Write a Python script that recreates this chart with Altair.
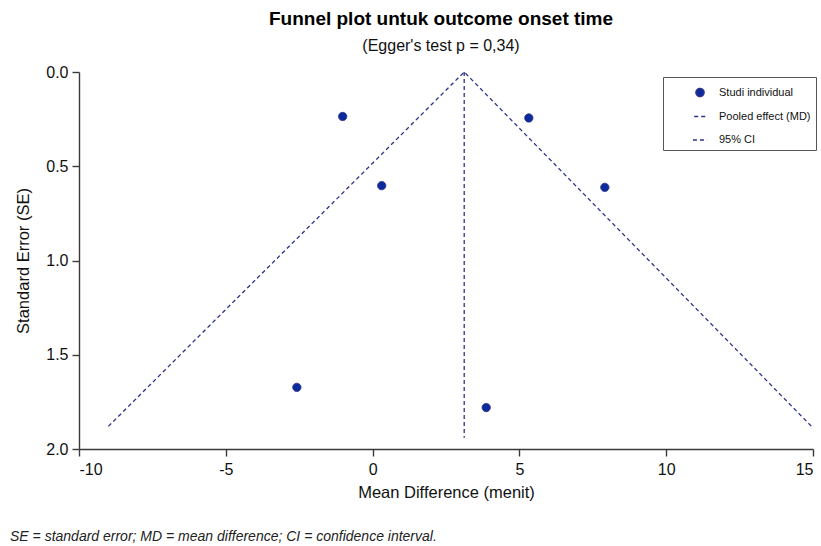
import altair as alt
import pandas as pd

# ---- data ----
study_md = [-1.02, 0.31, -2.58, 5.32, 7.91, 3.87]
study_se = [0.236, 0.603, 1.673, 0.244, 0.612, 1.78]

pooled_md = 3.12
pooled_se = [0.0, 1.94]

ci_md = [-9.0, 3.12, 14.95]
ci_se = [1.88, 0.0, 1.88]

series_labels = ["Studi individual", "Pooled effect (MD)", "95% CI"]
x_ticks = [-10, -5, 0, 5, 10, 15]
y_ticks = [0.0, 0.5, 1.0, 1.5, 2.0]

title_text = "Funnel plot untuk outcome onset time"
subtitle_text = "(Egger's test p = 0,34)"
x_title = "Mean Difference (menit)"
y_title = "Standard Error (SE)"
footnote = "SE = standard error; MD = mean difference; CI = confidence interval."

FONT = "Liberation Sans"
PT_COLOR = "#0b2a9c"
LN_COLOR = "#2d3189"
AX_COLOR = "#3a3a3a"

pts = pd.DataFrame({"md": study_md, "se": study_se, "series": series_labels[0]})
pooled = pd.DataFrame({"md": [pooled_md, pooled_md], "se": pooled_se, "order": [0, 1]})
ci = pd.DataFrame({"md": ci_md, "se": ci_se, "order": [0, 1, 2]})
note = pd.DataFrame({"note": [footnote]})

xscale = alt.Scale(domain=[-10, 15], nice=False, zero=False)
yscale = alt.Scale(domain=[0, 2], reverse=True, nice=False, zero=False)

xaxis = alt.Axis(values=x_ticks, title=x_title, grid=False, tickSize=7,
                 labelFontSize=16, labelPadding=5, titleFontSize=16.5,
                 titleFontWeight="normal", titlePadding=7,
                 labelExpr="datum.value + ''")
yaxis = alt.Axis(values=y_ticks, title=y_title, grid=False, tickSize=7,
                 labelFontSize=16, labelPadding=4, titleFontSize=16.5,
                 titleFontWeight="normal", titlePadding=14, format=".1f")


def make_legend():
    return alt.Legend(
        title=" ", titleFontSize=5, titlePadding=0,
        orient="none", legendX=584, legendY=5,
        padding=5, strokeColor="#555555", fillColor="white",
        symbolOffset=24, labelOffset=11, rowPadding=10,
        labelFontSize=11, labelFont=FONT, labelColor="#111111",
        symbolStrokeWidth=1.3, symbolOpacity=1,
    )


ci_layer = alt.Chart(ci).mark_line(color=LN_COLOR, strokeDash=[4, 3], strokeWidth=1.3).encode(
    x=alt.X("md:Q", scale=xscale, axis=xaxis),
    y=alt.Y("se:Q", scale=yscale, axis=yaxis),
    order="order:Q",
)

pooled_layer = alt.Chart(pooled).mark_line(color=LN_COLOR, strokeDash=[4, 3], strokeWidth=1.3).encode(
    x=alt.X("md:Q", scale=xscale, axis=xaxis),
    y=alt.Y("se:Q", scale=yscale, axis=yaxis),
    order="order:Q",
)

pt_layer = alt.Chart(pts).mark_point(
    filled=True, opacity=1, fill=PT_COLOR, stroke=LN_COLOR, strokeWidth=1.0
).encode(
    x=alt.X("md:Q", scale=xscale, axis=xaxis),
    y=alt.Y("se:Q", scale=yscale, axis=yaxis),
    shape=alt.Shape("series:N",
                    scale=alt.Scale(domain=series_labels, range=["circle", "stroke", "stroke"]),
                    legend=make_legend()),
    strokeDash=alt.StrokeDash("series:N",
                              scale=alt.Scale(domain=series_labels, range=[[1, 0], [4, 3], [4, 3]]),
                              legend=make_legend()),
    size=alt.Size("series:N",
                  scale=alt.Scale(domain=series_labels, range=[68, 200, 200]),
                  legend=make_legend()),
)

note_layer = alt.Chart(note).mark_text(
    align="left", baseline="middle", font=FONT, fontSize=14, fontStyle="italic", color="#222222"
).encode(text="note:N", x=alt.value(-69), y=alt.value(465))

chart = alt.layer(ci_layer, pooled_layer, pt_layer, note_layer).properties(
    width=734, height=377,
    background="white",
    autosize=alt.AutoSizeParams(type="none"),
    padding={"left": 79, "top": 72, "right": 8, "bottom": 97},
    title=alt.TitleParams(
        text=title_text, subtitle=subtitle_text, anchor="middle", dx=-5,
        font=FONT, fontSize=19, fontWeight="bold", color="black",
        subtitleFont=FONT, subtitleFontSize=16, subtitleColor="#111111",
        subtitlePadding=9, offset=10,
    ),
).configure_view(strokeWidth=0, stroke="transparent").configure_axis(
    labelFont=FONT, titleFont=FONT, labelColor="#111111", titleColor="#111111",
    titleFontWeight="normal", domainColor=AX_COLOR, tickColor=AX_COLOR,
    domainWidth=1.4, tickWidth=1.4, grid=False,
)

chart.save("out.html", embed_options={"renderer": "svg", "actions": False})
